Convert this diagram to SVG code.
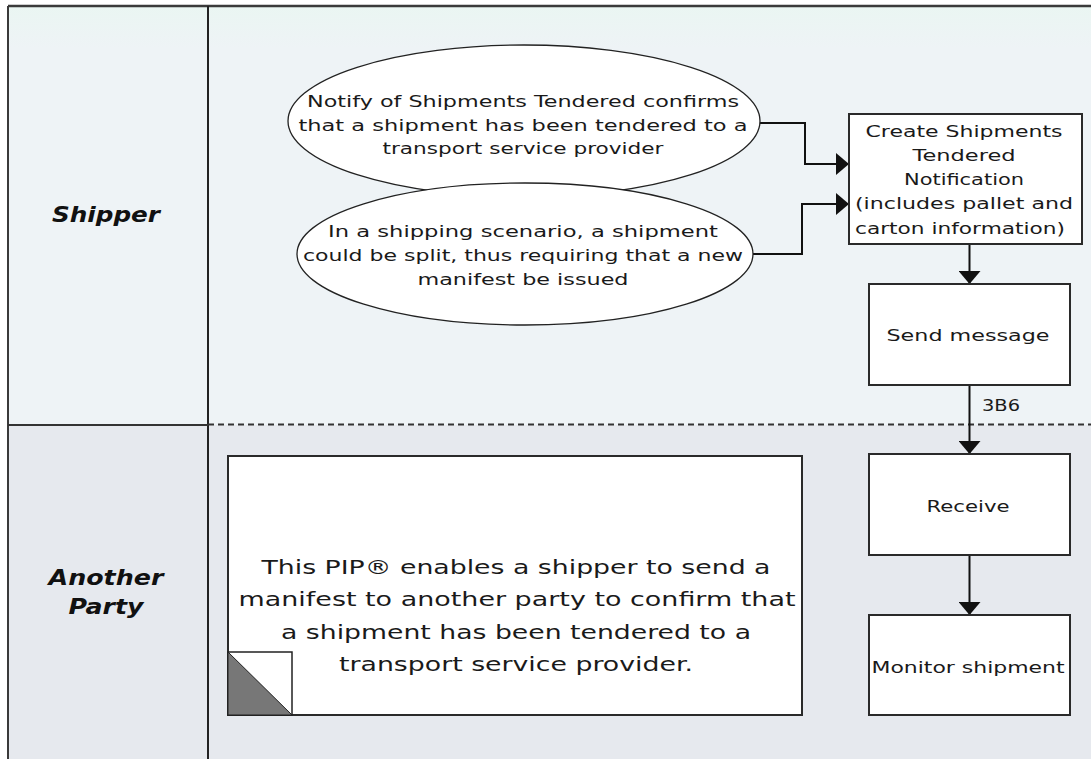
<svg xmlns="http://www.w3.org/2000/svg" width="1091" height="759" viewBox="0 0 1091 759">
<defs>
<style>
.t{font-family:"DejaVu Sans","Verdana",sans-serif;fill:#1a1a1a;text-anchor:middle}
.s{font-size:15px}
.n{font-size:19px}
.lane{font-family:"DejaVu Sans",sans-serif;font-weight:bold;font-style:italic;font-size:22px;fill:#111;text-anchor:middle}
.box{fill:#fff;stroke:#2a2a2a;stroke-width:2}
.ell{fill:#fff;stroke:#222;stroke-width:1.3}
.con{fill:none;stroke:#111;stroke-width:2}
</style>
<marker id="ah" viewBox="0 0 13 22" refX="13" refY="11" markerWidth="13" markerHeight="22" markerUnits="userSpaceOnUse" orient="auto">
<path d="M0,0 L13,11 L0,22 Z" fill="#111"/>
</marker>
<linearGradient id="topg" x1="0" y1="0" x2="0" y2="1">
<stop offset="0" stop-color="#eaf6f2"/>
<stop offset="0.1" stop-color="#eef3f6"/>
<stop offset="1" stop-color="#eef3f6"/>
</linearGradient>
</defs>
<g id="lanes">
<rect x="0" y="0" width="1091" height="759" fill="#ffffff"/>
<rect x="8" y="6" width="1083" height="419" fill="url(#topg)"/>
<rect x="8" y="425" width="1083" height="334" fill="#e6e9ee"/>
<line x1="8" y1="6" x2="1091" y2="6" stroke="#3a3a3a" stroke-width="2.5"/>
<line x1="8" y1="6" x2="8" y2="759" stroke="#3a3a3a" stroke-width="2"/>
<line x1="208" y1="6" x2="208" y2="759" stroke="#222" stroke-width="2"/>
<line x1="8" y1="425" x2="208" y2="425" stroke="#333" stroke-width="2"/>
<line x1="208" y1="424.5" x2="1091" y2="424.5" stroke="#333" stroke-width="2" stroke-dasharray="6,4"/>
<text class="lane" x="106" y="222" textLength="108" lengthAdjust="spacingAndGlyphs">Shipper</text>
<text class="lane" x="106" y="585" textLength="115" lengthAdjust="spacingAndGlyphs">Another</text>
<text class="lane" x="106" y="614" textLength="75" lengthAdjust="spacingAndGlyphs">Party</text>
</g>
<g id="connectors">
<polyline class="con" points="760,123 805,123 805,164 849,164" marker-end="url(#ah)"/>
<polyline class="con" points="753,254 802,254 802,204 849,204" marker-end="url(#ah)"/>
<line class="con" x1="969.5" y1="244" x2="969.5" y2="284" marker-end="url(#ah)"/>
<line class="con" x1="969.5" y1="385" x2="969.5" y2="454" marker-end="url(#ah)"/>
<text class="t s" x="1001" y="411" textLength="38" lengthAdjust="spacingAndGlyphs">3B6</text>
<line class="con" x1="969.5" y1="555" x2="969.5" y2="615" marker-end="url(#ah)"/>
</g>
<g id="ellipse1">
<ellipse class="ell" cx="524" cy="121" rx="236" ry="76"/>
<text class="t s" x="523" y="107" textLength="432" lengthAdjust="spacingAndGlyphs">Notify of Shipments Tendered confirms</text>
<text class="t s" x="523" y="131" textLength="449" lengthAdjust="spacingAndGlyphs">that a shipment has been tendered to a</text>
<text class="t s" x="523" y="154" textLength="281" lengthAdjust="spacingAndGlyphs">transport service provider</text>
</g>
<g id="ellipse2">
<ellipse class="ell" cx="525" cy="254" rx="228" ry="71"/>
<text class="t s" x="523" y="237" textLength="390" lengthAdjust="spacingAndGlyphs">In a shipping scenario, a shipment</text>
<text class="t s" x="523" y="261" textLength="440" lengthAdjust="spacingAndGlyphs">could be split, thus requiring that a new</text>
<text class="t s" x="523" y="285" textLength="211" lengthAdjust="spacingAndGlyphs">manifest be issued</text>
</g>
<g id="create">
<rect class="box" x="849" y="114" width="233" height="130"/>
<text class="t s" x="964" y="137" textLength="197" lengthAdjust="spacingAndGlyphs">Create Shipments</text>
<text class="t s" x="964" y="161" textLength="103" lengthAdjust="spacingAndGlyphs">Tendered</text>
<text class="t s" x="964" y="185" textLength="120" lengthAdjust="spacingAndGlyphs">Notification</text>
<text class="t s" x="964" y="209" textLength="218" lengthAdjust="spacingAndGlyphs">(includes pallet and</text>
<text class="t s" x="960" y="234" textLength="210" lengthAdjust="spacingAndGlyphs">carton information)</text>
</g>
<g id="send">
<rect class="box" x="869" y="284" width="201" height="101"/>
<text class="t s" x="968" y="341" textLength="163" lengthAdjust="spacingAndGlyphs">Send message</text>
</g>
<g id="receive">
<rect class="box" x="869" y="454" width="201" height="101"/>
<text class="t s" x="968" y="512" textLength="83" lengthAdjust="spacingAndGlyphs">Receive</text>
</g>
<g id="monitor">
<rect class="box" x="869" y="615" width="201" height="100"/>
<text class="t s" x="968" y="673" textLength="193" lengthAdjust="spacingAndGlyphs">Monitor shipment</text>
</g>
<g id="note">
<rect class="box" x="228" y="456" width="574" height="259"/>
<rect x="228" y="652" width="64" height="63" fill="#fff" stroke="#222" stroke-width="1.5"/>
<path d="M228,652 L292,715 L228,715 Z" fill="#777" stroke="#222" stroke-width="1"/>
<text class="t n" x="516" y="574" textLength="509" lengthAdjust="spacingAndGlyphs">This PIP® enables a shipper to send a</text>
<text class="t n" x="517" y="606" textLength="557" lengthAdjust="spacingAndGlyphs">manifest to another party to confirm that</text>
<text class="t n" x="516" y="639" textLength="470" lengthAdjust="spacingAndGlyphs">a shipment has been tendered to a</text>
<text class="t n" x="516" y="671" textLength="354" lengthAdjust="spacingAndGlyphs">transport service provider.</text>
</g>
</svg>
